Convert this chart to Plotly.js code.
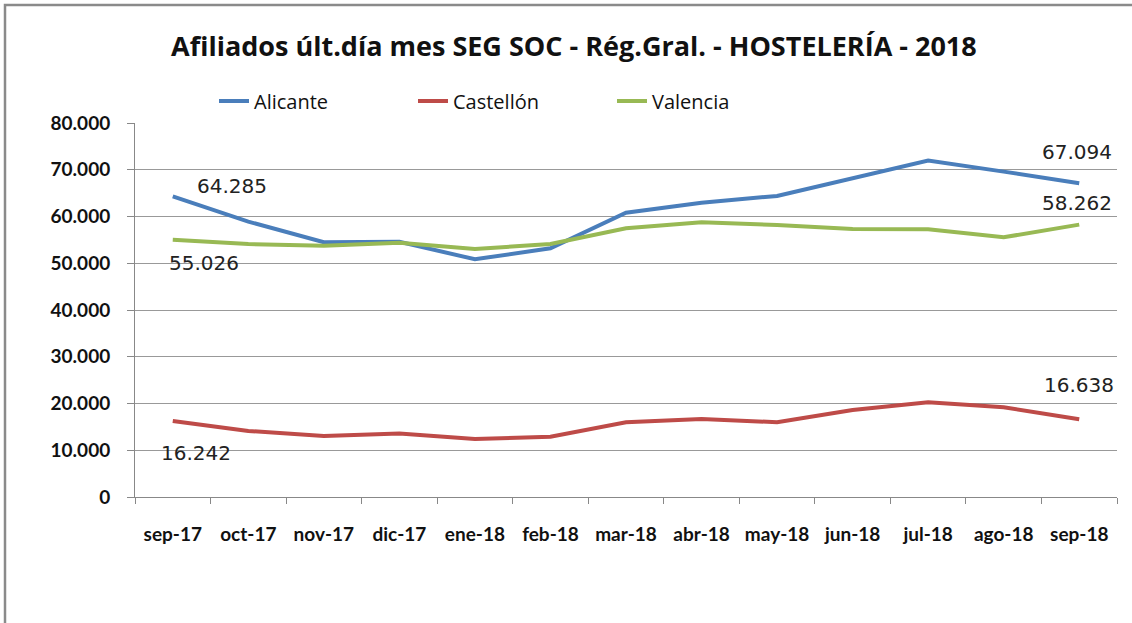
<!DOCTYPE html>
<html>
<head>
<meta charset="utf-8">
<script src="https://cdn.plot.ly/plotly-3.0.1.min.js"></script>
<style>html,body{margin:0;padding:0;background:#fff;}#chart{width:1132px;height:623px;}</style>
</head>
<body>
<div id="chart"></div>
<script>
const months = ["sep-17","oct-17","nov-17","dic-17","ene-18","feb-18","mar-18","abr-18","may-18","jun-18","jul-18","ago-18","sep-18"];
const alicante = [64285,58900,54500,54600,50850,53200,60800,62950,64400,68200,71950,69600,67094];
const castellon = [16242,14120,13050,13600,12400,12900,15980,16700,15980,18600,20250,19200,16638];
const valencia = [55026,54100,53750,54400,53050,54100,57470,58750,58180,57330,57250,55550,58262];
const seriesNames = ["Alicante","Castellón","Valencia"];
const seriesColors = ["#4A7EBB","#BE4B48","#98B954"];
const yTicks = [0,10000,20000,30000,40000,50000,60000,70000,80000];

const series = [alicante, castellon, valencia];
const traces = series.map((vals, i) => ({
  type: "scatter", mode: "lines", name: seriesNames[i],
  x: months, y: vals,
  line: {color: seriesColors[i], width: 4},
  hoverinfo: "skip"
}));

function fmt(v){ return String(v).replace(/\B(?=(\d{3})+(?!\d))/g, "."); }
const last = months.length - 1;
const labelFont = {family: "'DejaVu Sans', sans-serif", size: 20, color: "#222"};
const annotations = [
  {x: months[0], y: alicante[0], text: fmt(alicante[0]), xshift: 59, yshift: 10},
  {x: months[0], y: valencia[0], text: fmt(valencia[0]), xshift: 31, yshift: -23},
  {x: months[0], y: castellon[0], text: fmt(castellon[0]), xshift: 23, yshift: -32},
  {x: months[last], y: alicante[last], text: fmt(alicante[last]), xshift: -2, yshift: 31},
  {x: months[last], y: valencia[last], text: fmt(valencia[last]), xshift: -2, yshift: 22},
  {x: months[last], y: castellon[last], text: fmt(castellon[last]), xshift: 0, yshift: 34}
].map(a => Object.assign({xref: "x", yref: "y", showarrow: false, font: labelFont, xanchor: "center", yanchor: "middle"}, a));

const layout = {
  width: 1132, height: 623,
  margin: {l: 0, r: 0, t: 0, b: 0},
  paper_bgcolor: "#fff", plot_bgcolor: "#fff",
  separators: ",.",
  showlegend: true,
  title: {
    text: "<b>Afiliados últ.día mes SEG SOC - Rég.Gral. - HOSTELERÍA - 2018</b>",
    font: {family: "'Open Sans', sans-serif", size: 27, color: "#111"},
    x: 0.507, xref: "container", xanchor: "center",
    y: 1 - 47/623, yref: "container", yanchor: "middle"
  },
  legend: {
    orientation: "h", x: 214/1132, xanchor: "left", y: 1 - 101/623, yanchor: "middle",
    font: {family: "'Open Sans', sans-serif", size: 20, color: "#111"},
    entrywidth: 154, entrywidthmode: "pixels",
    bgcolor: "rgba(0,0,0,0)"
  },
  xaxis: {
    domain: [135/1132, 1117/1132],
    type: "category", range: [-0.5, 12.5],
    showgrid: false, showline: true, linecolor: "#888", linewidth: 1,
    ticks: "outside", tickson: "boundaries", ticklen: 6, tickcolor: "#888",
    tickfont: {family: "Lato, sans-serif", size: 19, color: "#111", weight: "bold"},
    ticklabelstandoff: 20,
    fixedrange: true
  },
  yaxis: {
    domain: [(623-497)/623, (623-123)/623],
    range: [0, 80000], tickvals: yTicks, ticktext: yTicks.map(v => fmt(v)),
    showgrid: true, gridcolor: "#999", gridwidth: 1,
    showline: true, linecolor: "#888", linewidth: 1,
    ticks: "outside", ticklen: 7, tickcolor: "#888",
    tickfont: {family: "Lato, sans-serif", size: 19, color: "#111", weight: "bold"},
    ticklabelstandoff: 13,
    zeroline: false, fixedrange: true
  },
  annotations: annotations,
  shapes: [
    {type: "rect", xref: "paper", yref: "paper", x0: 5/1132, x1: 1.1, y0: -0.05, y1: 1 - 5/623,
     line: {color: "#8a8a8a", width: 2.5}, fillcolor: "rgba(0,0,0,0)", layer: "below"}
  ]
};

Plotly.newPlot("chart", traces, layout, {staticPlot: true, displayModeBar: false});
</script>
</body>
</html>
